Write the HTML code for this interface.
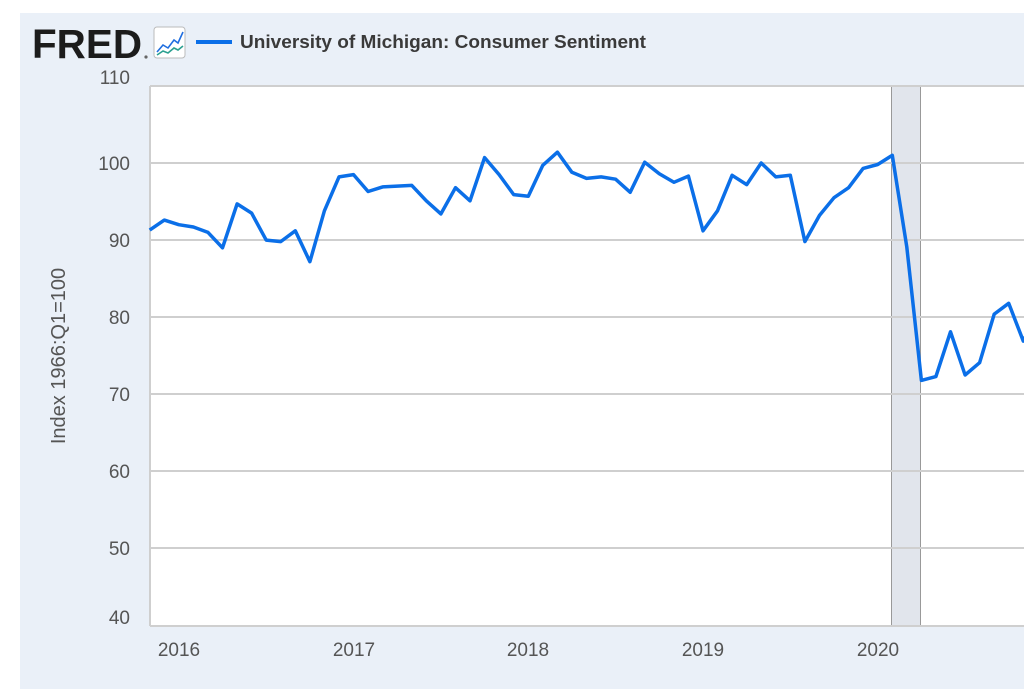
<!DOCTYPE html>
<html><head><meta charset="utf-8"><style>
html,body{margin:0;padding:0;background:#fff;}
body{width:1024px;height:689px;overflow:hidden;font-family:"Liberation Sans",sans-serif;}
</style></head><body>
<svg width="1024" height="689" xmlns="http://www.w3.org/2000/svg" font-family="Liberation Sans, sans-serif">
<rect x="20" y="13" width="1004" height="676" fill="#eaf0f8"/>
<text x="32" y="58" font-size="41" font-weight="bold" fill="#1c1c1c" textLength="110" lengthAdjust="spacingAndGlyphs">FRED</text>
<circle cx="146" cy="57" r="1.6" fill="#666"/>
<rect x="154" y="27" width="31" height="31" rx="3" fill="#fff" stroke="#bbb"/>
<polyline points="157,52 163,45 168,48 174,40 178,43 183,32" fill="none" stroke="#1f6ee0" stroke-width="1.6"/>
<polyline points="157,55 163,51 168,53 174,48 178,50 183,46" fill="none" stroke="#2aa090" stroke-width="1.6"/>
<line x1="196" y1="42" x2="232" y2="42" stroke="#0b6fe8" stroke-width="4"/>
<text x="240" y="48" font-size="18" font-weight="bold" fill="#3a3a3a" textLength="406" lengthAdjust="spacingAndGlyphs">University of Michigan: Consumer Sentiment</text>
<rect x="150" y="86" width="874" height="540" fill="#fff"/>
<rect x="891" y="86" width="30" height="540" fill="#e1e5ec"/>
<line x1="891.5" y1="86" x2="891.5" y2="626" stroke="#999"/>
<line x1="920.5" y1="86" x2="920.5" y2="626" stroke="#999"/>
<g stroke="#cfcfcf" stroke-width="2">
<line x1="150" y1="86" x2="1024" y2="86"/><line x1="150" y1="163" x2="1024" y2="163"/>
<line x1="150" y1="240" x2="1024" y2="240"/><line x1="150" y1="317" x2="1024" y2="317"/>
<line x1="150" y1="394" x2="1024" y2="394"/><line x1="150" y1="471" x2="1024" y2="471"/>
<line x1="150" y1="548" x2="1024" y2="548"/><line x1="150" y1="626" x2="1024" y2="626"/>
</g>
<line x1="150" y1="86" x2="150" y2="626" stroke="#cfcfcf" stroke-width="2"/>
<g font-size="19" fill="#555" text-anchor="end">
<text x="130" y="84">110</text><text x="130" y="170">100</text><text x="130" y="247">90</text>
<text x="130" y="324">80</text><text x="130" y="401">70</text><text x="130" y="478">60</text>
<text x="130" y="555">50</text><text x="130" y="624">40</text>
</g>
<g font-size="19" fill="#555" text-anchor="middle">
<text x="179" y="656">2016</text><text x="354" y="656">2017</text><text x="528" y="656">2018</text>
<text x="703" y="656">2019</text><text x="878" y="656">2020</text>
</g>
<text transform="translate(65,356) rotate(-90)" font-size="20" fill="#555" text-anchor="middle">Index 1966:Q1=100</text>
<polyline fill="none" stroke="#0b6fe8" stroke-width="3.5" stroke-linejoin="round" points="149.7,230.1 164.3,220.1 178.8,224.7 193.4,227.0 208.0,232.4 222.5,247.8 237.1,203.9 251.6,213.1 266.2,240.1 280.7,241.6 295.3,230.8 309.9,261.7 324.4,210.8 339.0,176.9 353.5,174.6 368.1,191.5 382.7,186.9 397.2,186.1 411.8,185.4 426.3,200.8 440.9,213.9 455.5,187.7 470.0,200.8 484.6,157.6 499.1,174.6 513.7,194.6 528.3,196.2 542.8,165.3 557.4,152.2 571.9,172.3 586.5,178.4 601.1,176.9 615.6,179.2 630.2,192.3 644.7,162.2 659.3,173.8 673.9,182.3 688.4,176.1 703.0,230.8 717.5,210.8 732.1,175.3 746.7,184.6 761.2,163.0 775.8,176.9 790.3,175.3 804.9,241.6 819.5,215.4 834.0,197.7 848.6,187.7 863.1,168.4 877.7,164.5 892.3,155.3 906.8,247.0 921.4,380.4 935.9,376.6 950.5,331.8 965.1,375.0 979.6,362.7 994.2,314.1 1008.7,303.3 1023.3,341.1 1037.9,311.8"/>
</svg>
</body></html>
